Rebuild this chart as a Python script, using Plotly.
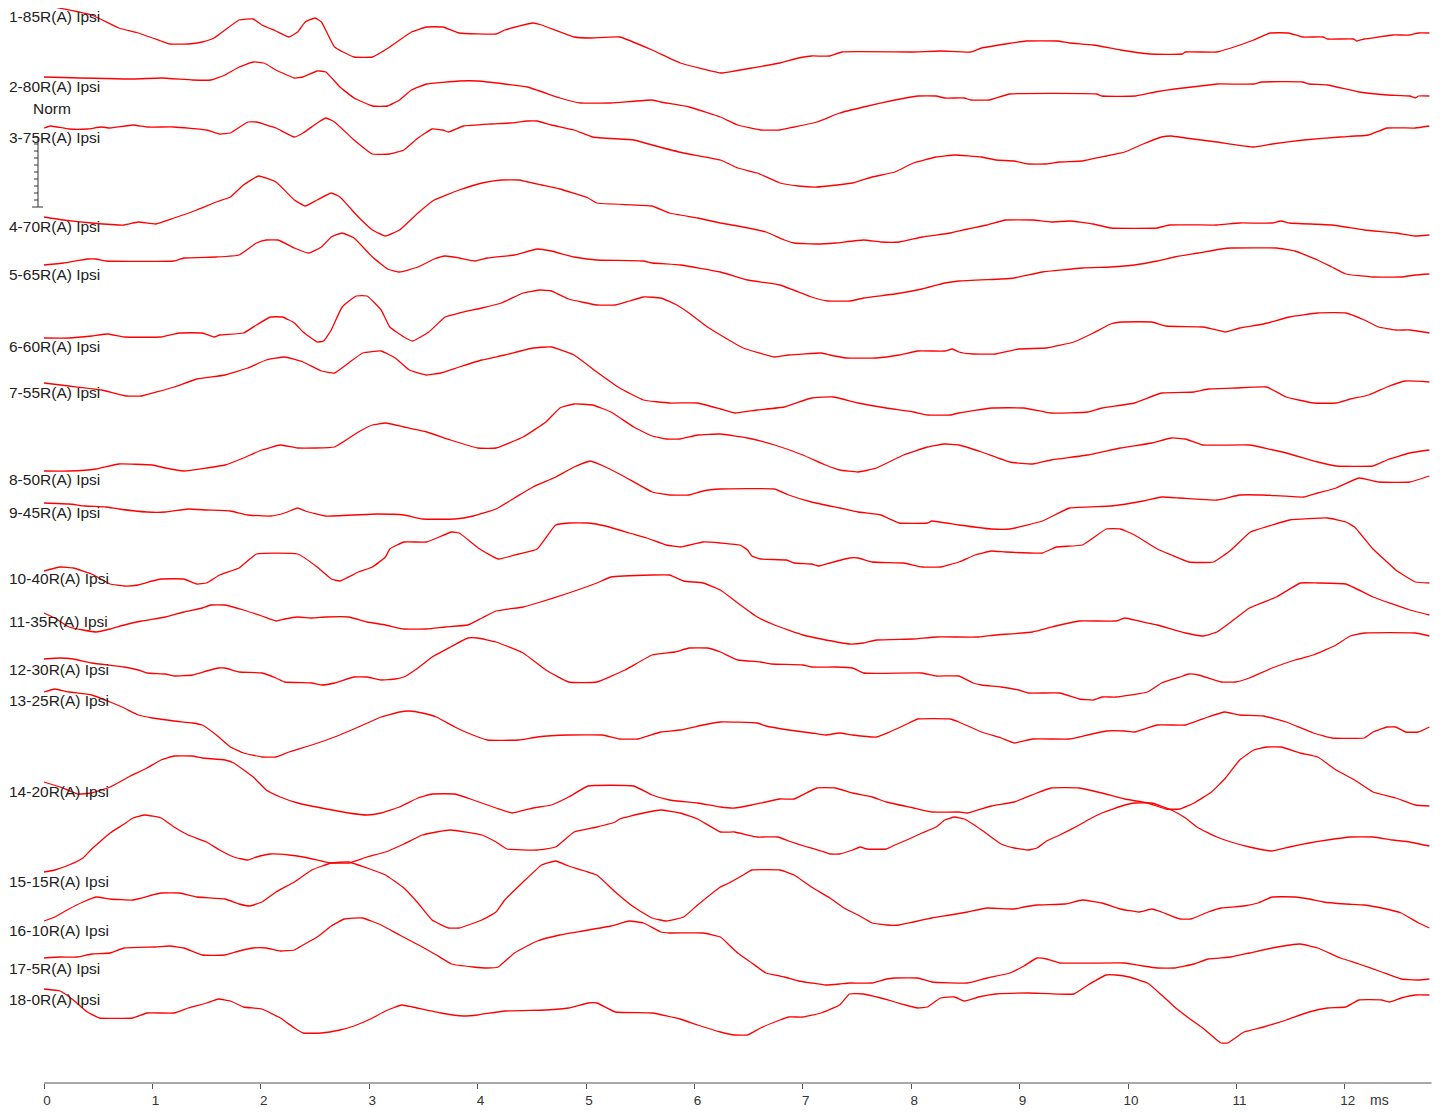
import plotly.graph_objects as go

# ---- data: time (ms) and vertical trace level (screen units, down = larger) ----
labels = ["1-85R(A) Ipsi", "2-80R(A) Ipsi", "3-75R(A) Ipsi", "4-70R(A) Ipsi", "5-65R(A) Ipsi",
          "6-60R(A) Ipsi", "7-55R(A) Ipsi", "8-50R(A) Ipsi", "9-45R(A) Ipsi", "10-40R(A) Ipsi",
          "11-35R(A) Ipsi", "12-30R(A) Ipsi", "13-25R(A) Ipsi", "14-20R(A) Ipsi", "15-15R(A) Ipsi",
          "16-10R(A) Ipsi", "17-5R(A) Ipsi", "18-0R(A) Ipsi"]
label_levels = [16, 86, 137, 226, 274, 346, 392, 479, 512, 578, 621, 669, 700, 791, 881, 930, 968, 999]

t1 = [0.00,0.44,0.69,0.87,1.08,1.16,1.33,1.46,1.57,1.67,1.80,1.93,2.01,2.14,2.26,2.34,2.41,2.50,2.56,2.68,2.86,3.03,3.19,3.39,3.53,3.68,3.83,4.17,4.25,4.51,4.59,4.89,5.04,5.31,5.61,5.87,6.24,6.37,6.53,6.79,6.96,7.08,7.25,7.36,8.00,8.27,8.55,8.65,8.87,9.06,9.35,9.46,9.68,9.93,10.20,10.50,10.53,10.82,10.95,11.16,11.31,11.48,11.61,11.80,11.84,12.08,12.11,12.18,12.31,12.44,12.60,12.68,12.78]
v1 = [5,15,28,33,41,44,44,42,38,30,20,19,25,31,37,32,22,18,22,47,57,57,47,32,27,27,33,34,30,23,25,37,38,37,50,63,73,71,68,63,58,56,56,52,52,51,52,48,44,41,41,43,45,50,54,54,52,52,48,40,33,33,37,37,39,39,41,39,37,35,35,33,33]

t2 = [0.00,0.82,1.08,1.37,1.54,1.67,1.80,1.93,2.03,2.14,2.31,2.39,2.52,2.60,2.73,2.86,3.03,3.17,3.28,3.39,3.53,3.83,4.00,4.25,4.46,4.76,4.95,5.23,5.61,5.69,5.95,6.24,6.40,6.61,6.79,6.92,7.13,7.34,7.56,7.85,8.06,8.23,8.31,8.49,8.55,8.72,8.91,9.71,9.76,10.07,10.25,10.43,10.67,10.82,11.16,11.23,11.61,11.67,11.84,12.13,12.39,12.60,12.65,12.68,12.78]
v2 = [77,79,78,80,80,75,67,62,63,70,78,77,71,72,87,98,106,106,100,90,84,81,81,84,87,98,103,103,100,102,107,117,125,130,130,127,122,113,107,100,96,96,98,98,100,100,94,94,96,96,92,89,86,84,84,82,82,84,85,92,95,96,98,96,96]

t3 = [0.00,0.06,0.23,0.40,0.53,0.61,0.82,0.95,1.20,1.50,1.62,1.72,1.88,1.96,2.14,2.31,2.39,2.52,2.60,2.68,2.86,3.03,3.19,3.32,3.45,3.58,3.68,3.73,3.87,4.12,4.30,4.46,4.55,4.68,4.89,5.06,5.44,5.61,5.90,6.24,6.40,6.58,6.79,6.96,7.13,7.46,7.64,7.85,8.02,8.23,8.40,8.65,8.78,8.95,9.08,9.25,9.37,9.58,9.80,9.97,10.14,10.31,10.40,10.53,10.82,11.16,11.33,11.62,11.96,12.22,12.39,12.65,12.78]
v3 = [128,126,129,129,127,128,125,127,127,130,134,133,122,122,128,137,133,123,118,122,140,154,154,150,138,129,130,132,126,124,123,121,121,125,130,137,140,145,153,160,168,173,183,186,187,183,177,172,163,157,155,157,160,161,164,164,162,161,156,152,144,137,136,138,142,147,144,140,137,135,128,128,126]

t4 = [0.00,0.18,0.44,0.74,0.87,1.03,1.20,1.41,1.59,1.72,1.84,1.98,2.14,2.31,2.41,2.52,2.65,2.73,2.90,3.03,3.15,3.28,3.45,3.60,3.83,4.04,4.22,4.38,4.59,4.76,5.02,5.10,5.61,5.77,6.03,6.24,6.40,6.66,6.83,6.92,7.13,7.30,7.56,7.72,7.89,8.10,8.36,8.52,8.70,8.87,9.12,9.29,9.46,9.68,9.84,10.27,10.38,10.82,11.03,11.33,11.41,11.49,11.88,12.18,12.47,12.65,12.78]
v4 = [217,220,223,225,222,224,218,210,202,197,185,176,182,200,206,200,193,197,217,230,236,230,213,200,190,183,180,180,185,189,198,203,206,213,218,223,226,232,240,243,244,243,240,242,242,237,233,229,225,220,220,222,221,224,228,228,225,225,223,223,221,223,225,230,233,236,235]

t5 = [0.00,0.18,0.40,0.48,0.57,1.20,1.29,1.59,1.80,1.96,2.05,2.16,2.31,2.44,2.56,2.65,2.75,2.86,3.03,3.17,3.28,3.45,3.60,3.70,3.83,3.98,4.09,4.34,4.55,4.68,4.89,5.10,5.53,5.61,5.87,6.24,6.49,6.79,7.08,7.23,7.44,7.56,7.85,8.10,8.31,8.44,8.83,8.95,9.21,9.58,9.84,10.06,10.27,10.43,10.65,10.86,10.95,11.37,11.54,11.75,11.88,12.01,12.26,12.52,12.65,12.78]
v5 = [265,263,259,259,261,261,258,257,255,243,240,240,248,253,247,237,233,238,257,269,272,267,259,256,258,261,258,255,249,251,257,260,261,263,265,272,280,285,297,301,301,298,294,289,283,281,279,278,272,268,267,265,261,257,253,249,248,248,251,260,267,274,277,277,275,274]

t6 = [0.00,0.23,0.44,0.59,0.74,1.08,1.25,1.46,1.57,1.62,1.84,1.96,2.09,2.20,2.31,2.39,2.52,2.58,2.65,2.75,2.88,2.98,3.11,3.19,3.32,3.40,3.55,3.70,3.83,4.04,4.22,4.42,4.58,4.68,4.84,5.10,5.27,5.40,5.53,5.69,5.82,5.95,6.12,6.24,6.45,6.74,6.87,7.17,7.25,7.40,7.68,7.89,8.06,8.31,8.38,8.44,8.57,8.78,8.99,9.25,9.50,9.68,9.84,9.95,10.22,10.35,10.69,10.86,10.90,11.03,11.25,11.49,11.75,12.01,12.18,12.31,12.47,12.60,12.78]
v6 = [338,338,336,334,337,337,333,333,337,335,333,325,317,317,323,332,342,341,330,307,296,296,310,327,337,341,332,317,313,308,303,293,290,291,299,305,305,301,297,298,304,313,327,335,348,357,355,353,355,358,358,355,351,351,349,352,354,354,349,348,342,333,324,322,322,326,327,331,332,328,324,317,313,313,320,327,330,330,333]

t7 = [0.00,0.23,0.53,0.76,0.90,1.20,1.41,1.67,1.88,2.05,2.22,2.39,2.56,2.68,2.81,2.94,3.11,3.24,3.37,3.53,3.66,3.83,4.04,4.25,4.51,4.68,4.89,5.10,5.31,5.53,5.77,6.03,6.24,6.37,6.58,6.83,7.08,7.28,7.51,7.77,8.02,8.15,8.36,8.44,8.74,9.04,9.29,9.63,9.76,10.06,10.31,10.61,10.74,10.99,11.28,11.46,11.71,11.92,12.05,12.22,12.39,12.56,12.78]
v7 = [383,386,390,396,396,387,379,375,368,360,357,362,371,373,363,353,351,358,370,375,373,367,360,355,348,347,355,372,388,400,403,403,409,413,410,407,398,397,403,408,412,415,415,413,408,408,413,412,408,403,393,392,389,388,387,397,403,403,399,395,387,381,382]

t8 = [0.00,0.23,0.48,0.69,1.00,1.12,1.29,1.50,1.67,1.84,2.01,2.18,2.34,2.68,2.90,3.03,3.15,3.32,3.53,3.75,4.00,4.17,4.42,4.63,4.76,4.89,5.06,5.23,5.44,5.61,5.74,5.87,6.03,6.24,6.49,6.74,7.00,7.21,7.34,7.51,7.68,7.93,8.15,8.31,8.44,8.65,8.91,9.12,9.29,9.63,9.93,10.22,10.40,10.53,10.69,11.12,11.46,11.75,11.92,12.26,12.39,12.60,12.78]
v8 = [471,471,469,464,465,468,471,468,465,458,450,445,448,447,432,425,423,427,432,440,448,448,437,422,408,404,405,412,427,436,439,439,435,434,438,445,455,465,470,472,468,455,447,444,445,452,462,464,460,455,448,443,438,439,445,445,453,462,466,466,460,453,450]

t9 = [0.00,0.23,0.38,0.57,0.69,0.95,1.12,1.33,1.50,1.72,1.88,2.09,2.22,2.34,2.41,2.60,3.07,3.32,3.49,3.79,3.96,4.17,4.34,4.51,4.72,4.89,5.04,5.18,5.36,5.61,5.77,5.95,6.08,6.24,6.74,6.87,7.08,7.34,7.51,7.72,7.89,8.15,8.19,8.44,8.74,8.91,9.21,9.46,9.84,10.14,10.31,10.48,10.82,11.03,11.25,11.62,11.75,11.92,12.13,12.31,12.60,12.78]
v9 = [503,504,506,507,509,512,512,509,510,511,515,516,513,508,511,516,514,515,519,519,516,509,498,487,477,467,461,467,477,492,495,495,491,489,489,495,502,508,512,515,523,523,521,525,529,529,521,508,506,501,497,498,500,495,495,497,493,488,478,482,482,476]

t10 = [0.00,0.15,0.27,0.44,0.61,0.74,0.87,1.00,1.08,1.29,1.41,1.50,1.62,1.80,1.96,2.34,2.52,2.65,2.73,2.90,3.03,3.15,3.19,3.32,3.53,3.76,3.83,4.02,4.19,4.38,4.55,4.72,4.84,5.02,5.18,5.40,5.56,5.74,5.87,6.08,6.24,6.42,6.49,6.53,6.61,6.85,6.92,7.08,7.15,7.25,7.43,7.51,7.64,7.93,8.10,8.27,8.44,8.59,8.74,8.87,9.21,9.34,9.58,9.80,9.93,10.06,10.27,10.40,10.56,10.79,10.95,11.13,11.33,11.49,11.84,12.01,12.09,12.26,12.37,12.47,12.65,12.78]
v10 = [571,567,568,574,584,586,585,581,579,579,584,583,575,568,554,554,567,579,581,572,567,557,549,542,542,532,533,549,559,554,549,525,523,523,526,533,538,545,547,542,543,545,550,556,559,560,563,564,566,563,558,558,562,563,567,567,562,555,551,552,553,547,545,529,529,535,549,555,562,562,550,532,525,520,518,522,527,549,560,570,582,583]

t11 = [0.00,0.10,0.23,0.36,0.48,0.61,0.74,0.90,1.12,1.29,1.46,1.54,1.67,1.84,2.01,2.14,2.22,2.34,2.47,2.60,2.81,2.98,3.15,3.32,3.53,3.70,3.91,4.04,4.17,4.42,4.55,4.84,5.10,5.23,5.61,5.77,5.90,6.08,6.24,6.40,6.58,6.74,7.00,7.17,7.43,7.56,7.68,8.02,8.23,8.62,8.78,9.12,9.37,9.55,9.89,9.97,10.10,10.27,10.53,10.69,10.82,10.95,11.12,11.37,11.59,11.75,12.01,12.26,12.60,12.78]
v11 = [613,618,627,630,632,629,625,621,617,612,608,605,605,610,616,621,619,617,618,617,617,622,625,629,629,627,625,618,611,607,603,593,583,577,575,575,581,583,590,603,617,625,635,639,644,643,640,639,637,637,635,632,625,621,621,618,621,625,633,636,632,622,608,597,583,583,584,597,610,615]

t12 = [0.00,0.15,0.27,0.44,0.74,0.87,0.95,1.12,1.20,1.37,1.50,1.61,1.67,1.80,2.01,2.14,2.22,2.47,2.56,2.68,2.86,2.98,3.11,3.24,3.32,3.45,3.58,3.75,3.91,4.00,4.17,4.42,4.63,4.84,5.10,5.36,5.61,5.82,5.95,6.12,6.24,6.40,6.61,6.71,7.00,7.08,7.30,7.46,7.56,8.10,8.23,8.44,8.57,8.65,8.83,8.99,9.08,9.37,9.55,9.68,9.76,9.89,10.18,10.31,10.48,10.56,10.65,10.86,10.99,11.12,11.33,11.54,11.71,11.92,12.05,12.18,12.65,12.78]
v12 = [659,658,659,663,667,670,673,674,676,675,671,668,668,672,673,678,682,683,685,683,677,677,680,679,677,668,657,647,638,638,642,653,670,682,682,670,655,652,648,648,652,660,662,664,665,667,667,668,673,673,676,676,683,685,687,690,693,693,699,700,697,697,692,683,677,674,675,682,682,678,668,660,655,645,636,633,633,636]

t13 = [0.00,0.10,0.23,0.44,0.61,0.74,0.87,1.00,1.20,1.37,1.46,1.59,1.72,1.84,2.01,2.14,2.26,2.47,2.68,2.90,3.11,3.28,3.37,3.49,3.62,3.79,3.91,4.09,4.38,4.55,4.84,5.15,5.31,5.48,5.69,5.87,6.08,6.24,6.58,6.66,6.87,7.08,7.21,7.34,7.46,7.68,7.80,7.98,8.06,8.36,8.44,8.65,8.83,8.95,9.12,9.46,9.55,9.80,9.97,10.06,10.27,10.53,10.74,10.89,11.03,11.25,11.46,11.71,11.88,12.18,12.26,12.39,12.47,12.56,12.68,12.78]
v13 = [692,689,692,695,702,708,715,718,721,723,725,735,747,753,757,757,752,745,737,727,717,712,711,713,717,727,733,740,740,737,735,735,739,739,732,730,725,722,723,726,730,733,735,733,735,737,732,723,719,719,722,732,738,743,739,739,737,731,731,732,725,725,717,712,715,716,722,733,738,738,732,727,727,732,732,727]

t14 = [0.00,0.15,0.31,0.44,0.61,0.78,0.95,1.08,1.20,1.37,1.46,1.67,1.75,1.93,2.05,2.18,2.34,2.56,2.81,2.98,3.11,3.28,3.45,3.58,3.79,3.96,4.17,4.32,4.51,4.68,4.84,5.02,5.44,5.61,5.77,6.03,6.24,6.37,6.53,6.79,6.92,7.13,7.30,7.46,7.64,7.77,8.02,8.19,8.44,8.52,8.74,8.95,9.16,9.29,9.55,9.76,9.97,10.18,10.35,10.48,10.61,10.77,10.90,11.03,11.16,11.28,11.41,11.59,11.75,11.92,12.09,12.26,12.47,12.65,12.78]
v14 = [782,787,794,793,787,777,768,760,756,756,758,760,763,777,790,797,803,808,813,815,813,807,798,794,794,800,808,813,808,805,797,786,786,795,800,803,807,808,805,799,799,788,788,793,797,802,808,812,812,813,806,802,793,788,788,793,799,803,809,809,803,792,778,760,750,747,747,753,757,770,780,792,798,805,806]

t15 = [0.00,0.10,0.23,0.36,0.44,0.61,0.74,0.82,0.93,1.08,1.20,1.33,1.50,1.62,1.75,1.88,1.96,2.09,2.26,2.39,2.56,2.65,2.81,2.98,3.15,3.32,3.49,3.62,3.75,4.04,4.17,4.27,4.55,4.72,4.89,5.10,5.27,5.31,5.53,5.69,5.87,6.03,6.24,6.37,6.49,6.58,6.77,6.87,7.04,7.17,7.25,7.34,7.46,7.53,7.59,7.77,7.85,7.98,8.10,8.23,8.31,8.40,8.49,8.65,8.83,8.95,9.08,9.16,9.25,9.37,9.55,9.63,9.76,9.97,10.06,10.22,10.40,10.53,10.65,10.82,10.95,11.12,11.33,11.49,11.67,11.84,12.05,12.26,12.44,12.60,12.78]
v15 = [872,870,865,858,849,833,824,818,815,818,827,835,842,850,857,860,857,854,855,857,861,863,863,857,852,844,835,832,830,835,842,849,850,847,832,827,822,819,813,810,813,819,832,832,835,837,837,841,847,851,854,854,850,847,849,849,845,839,833,827,820,817,819,830,844,848,850,848,841,835,825,820,813,805,803,803,810,818,828,837,842,847,851,847,843,840,837,837,840,842,846]

t16 = [0.00,0.10,0.23,0.36,0.48,0.61,0.82,1.00,1.08,1.25,1.41,1.67,1.80,1.90,2.01,2.14,2.31,2.47,2.65,2.81,2.98,3.15,3.32,3.45,3.58,3.73,3.83,4.04,4.17,4.25,4.42,4.59,4.72,4.84,5.10,5.27,5.44,5.61,5.74,5.90,6.03,6.24,6.32,6.45,6.53,6.79,6.92,7.08,7.25,7.38,7.51,7.64,7.77,7.89,8.02,8.19,8.36,8.52,8.70,8.95,9.04,9.16,9.42,9.58,9.76,9.93,10.10,10.22,10.31,10.48,10.58,10.74,10.86,11.07,11.20,11.33,11.54,11.67,11.80,12.01,12.18,12.34,12.52,12.68,12.78]
v16 = [921,917,909,902,897,899,900,895,893,893,897,899,904,906,902,892,882,870,863,862,868,875,888,903,920,928,928,920,912,900,882,865,861,866,875,892,907,918,921,917,905,887,883,875,870,870,875,887,898,908,915,923,925,925,922,918,915,912,908,909,907,905,904,900,903,909,912,909,912,919,919,912,908,906,903,897,897,899,902,904,905,908,913,923,928]

t17 = [0.00,0.15,0.31,0.44,0.61,0.74,1.03,1.16,1.29,1.46,1.67,1.80,1.93,2.05,2.18,2.31,2.39,2.52,2.65,2.77,2.94,3.11,3.28,3.49,3.62,3.76,3.96,4.09,4.19,4.34,4.55,4.76,4.97,5.23,5.40,5.53,5.69,5.77,6.08,6.24,6.32,6.40,6.53,6.66,6.83,6.96,7.08,7.21,7.34,7.43,7.64,7.77,7.85,8.06,8.19,8.52,8.70,8.91,9.04,9.16,9.25,9.37,9.97,10.14,10.27,10.43,10.61,10.74,10.95,11.12,11.33,11.59,11.75,11.96,12.13,12.34,12.52,12.68,12.78]
v17 = [958,957,957,954,953,948,947,946,948,955,955,951,948,948,951,950,945,937,926,919,918,925,935,947,955,964,967,968,967,953,941,935,931,926,921,923,932,933,933,937,945,953,963,973,977,981,983,985,984,983,983,979,978,978,982,983,978,973,966,958,959,963,963,966,968,968,964,959,957,953,948,944,948,958,964,972,979,980,979]

t18 = [0.00,0.15,0.27,0.40,0.51,0.82,0.95,1.20,1.33,1.50,1.61,1.72,1.84,2.01,2.18,2.31,2.39,2.56,2.73,2.86,3.03,3.15,3.30,3.40,3.66,3.87,4.00,4.25,4.63,4.84,5.02,5.10,5.27,5.61,5.87,6.03,6.24,6.37,6.49,6.61,6.79,6.87,7.00,7.17,7.34,7.43,7.56,7.72,7.85,7.98,8.06,8.15,8.27,8.40,8.49,8.62,8.78,9.08,9.50,9.63,9.80,9.89,10.01,10.18,10.31,10.43,10.56,10.69,10.82,10.86,10.92,11.07,11.25,11.46,11.67,11.84,12.01,12.13,12.34,12.41,12.52,12.65,12.78]
v18 = [989,991,1000,1012,1018,1018,1013,1013,1008,1003,999,1001,1007,1009,1018,1028,1033,1033,1030,1026,1018,1011,1005,1007,1013,1016,1015,1011,1010,1008,1003,1003,1012,1013,1019,1025,1032,1035,1035,1028,1020,1017,1017,1013,1005,994,994,998,1002,1006,1008,1007,998,997,1001,997,994,993,994,985,975,975,977,983,995,1007,1018,1028,1040,1043,1043,1032,1027,1020,1012,1008,1007,1000,1000,1002,998,995,995]

times = [t1, t2, t3, t4, t5, t6, t7, t8, t9, t10, t11, t12, t13, t14, t15, t16, t17, t18]
levels = [v1, v2, v3, v4, v5, v6, v7, v8, v9, v10, v11, v12, v13, v14, v15, v16, v17, v18]

x_ticks = list(range(0, 13))
x_end = 12.8

# ---- figure geometry (page has an 8px body margin) ----
OFF = 8
W, H = 1441 - 2 * OFF, 1100
px_per_ms = 108.4
origin_px = 44                     # page x of t = 0
x0 = (OFF - origin_px) / px_per_ms
x1 = (OFF + W - origin_px) / px_per_ms
axis_px = 1083                     # page y of the time axis
plot_h = axis_px - OFF

fig = go.Figure()

for tt, vv in zip(times, levels):
    fig.add_trace(go.Scatter(x=tt, y=vv, mode="lines",
                             line=dict(color="#ff0000", width=1.3, shape="spline", smoothing=0.35),
                             hoverinfo="skip", showlegend=False))

# amplitude scale bar ("Norm")
bar_x = -6 / px_per_ms
tick_x = -10 / px_per_ms
sb_x, sb_y = [bar_x, bar_x, None], [137, 207, None]
for k in range(10):
    yy = 137 + 7 * k
    sb_x += [tick_x, bar_x, None]
    sb_y += [yy, yy, None]
sb_x += [-12 / px_per_ms, -1 / px_per_ms]
sb_y += [207, 207]
fig.add_trace(go.Scatter(x=sb_x, y=sb_y, mode="lines",
                         line=dict(color="#333333", width=1),
                         hoverinfo="skip", showlegend=False))

label_font = dict(family="Liberation Sans, Arial, sans-serif", size=15.5, color="#222222")
annotations = []
for lab, lv in zip(labels, label_levels):
    annotations.append(dict(x=-36 / px_per_ms, y=lv, xref="x", yref="y", text=lab, borderpad=0,
                            showarrow=False, xanchor="left", yanchor="middle", font=label_font))
annotations.append(dict(x=-12 / px_per_ms, y=108, xref="x", yref="y", text="Norm", borderpad=0,
                        showarrow=False, xanchor="left", yanchor="middle", font=label_font))
annotations.append(dict(x=(1368 - origin_px) / px_per_ms, y=-17 / plot_h, xref="x", yref="paper",
                        text="ms", showarrow=False, xanchor="left", yanchor="middle",
                        font=dict(family="Liberation Sans, Arial, sans-serif", size=14, color="#333333")))

fig.update_layout(
    width=W, height=H,
    margin=dict(l=0, r=0, t=0, b=H - plot_h, pad=0),
    paper_bgcolor="white", plot_bgcolor="white",
    hovermode=False,
    annotations=annotations,
    shapes=[dict(type="line", xref="x", yref="paper", x0=0, x1=x_end, y0=0, y1=0,
                 line=dict(color="#555555", width=1))],
    xaxis=dict(range=[x0, x1], showgrid=False, zeroline=False, showline=False,
               tickvals=x_ticks, ticktext=[str(v) for v in x_ticks],
               ticks="outside", ticklen=5, tickwidth=1, tickcolor="#555555",
               ticklabelshift=3,
               tickfont=dict(family="Liberation Sans, Arial, sans-serif", size=13.5, color="#333333")),
    yaxis=dict(range=[axis_px, OFF], visible=False, showgrid=False, zeroline=False),
)

fig.write_html("out.html")
